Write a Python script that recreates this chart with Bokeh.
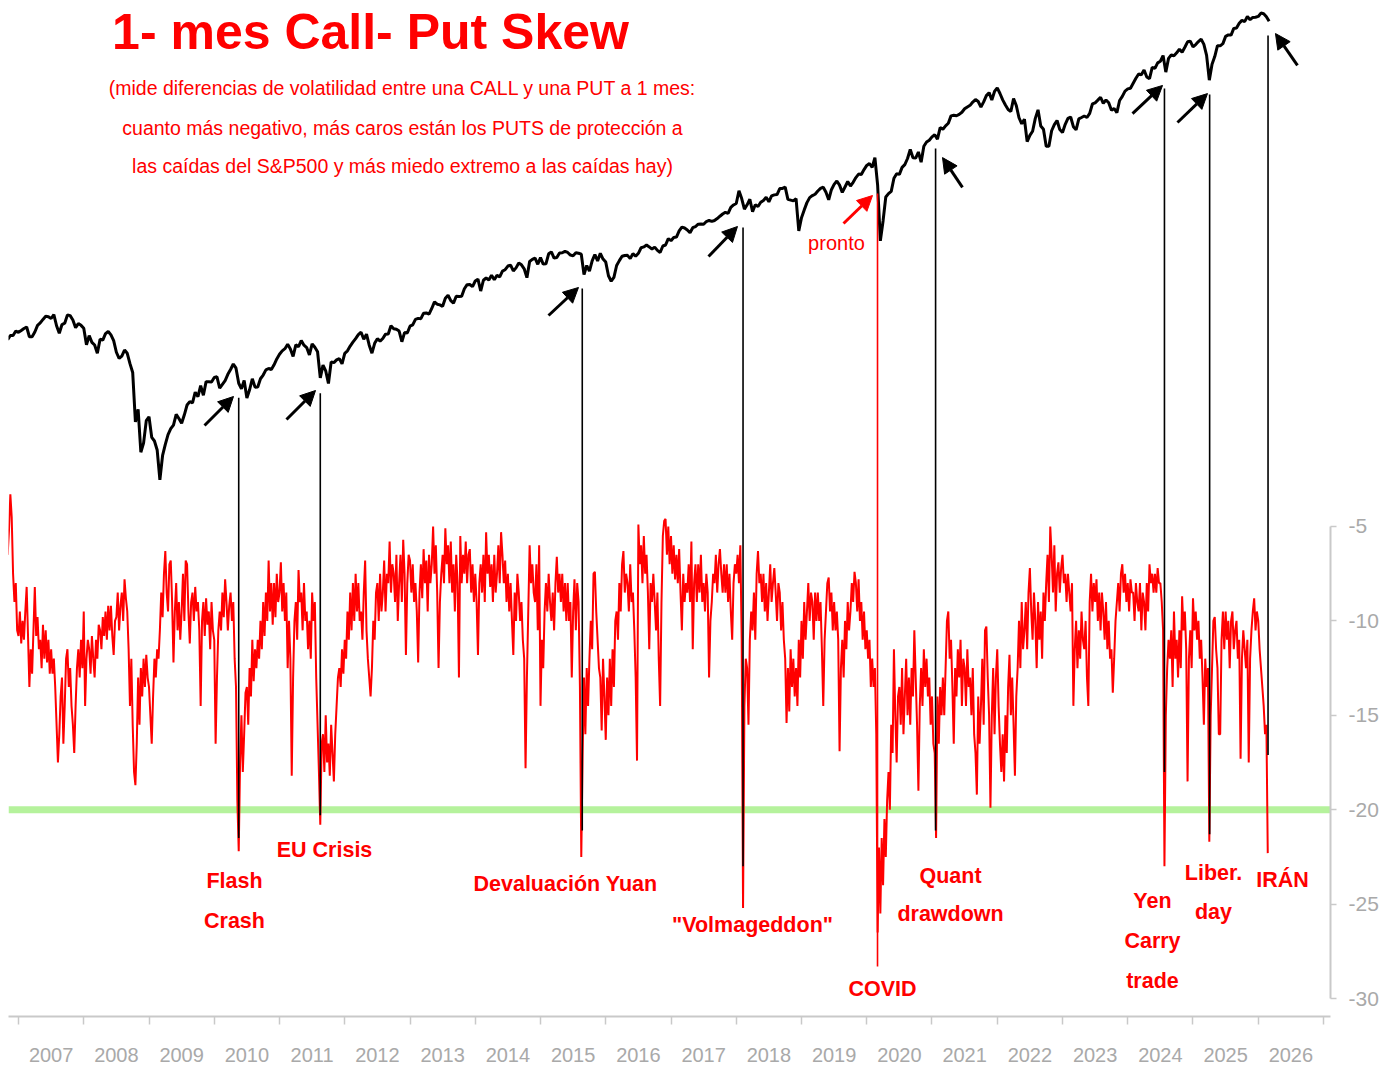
import math
import numpy as np
from bokeh.plotting import figure
from bokeh.models import (Range1d, LogScale, FixedTicker, Span, Label, Arrow,
                          NormalHead, CustomJSTickFormatter)
from bokeh.embed import file_html
from bokeh.resources import INLINE

# ---------------- data ----------------
START = 2006 + 10 / 12          # first observation: Nov 2006

# S&P 500 level, two readings per month (1st, 16th)
sp500 = [
    1367, 1396, 1396, 1427,
    1418, 1431, 1445, 1456, 1387, 1387, 1420, 1468, 1486, 1512, 1536, 1533, 1519, 1549, 1465, 1411, 1474, 1484, 1547, 1541, 1508, 1451, 1481, 1468,
    1447, 1333, 1395, 1349, 1331, 1277, 1370, 1364, 1409, 1424, 1400, 1360, 1284, 1245, 1260, 1298, 1277, 1213, 1161, 907, 966, 780, 816, 913,
    931, 840, 825, 789, 680, 768, 811, 852, 877, 893, 942, 923, 901, 940, 987, 1004, 998, 1052, 1029, 1087, 1036, 1109, 1108, 1107,
    1132, 1136, 1073, 1094, 1115, 1150, 1178, 1211, 1186, 1100, 1070, 1115, 1022, 1065, 1125, 1079, 1080, 1125, 1146, 1176, 1184, 1178, 1206, 1242,
    1271, 1293, 1307, 1336, 1305, 1257, 1332, 1320, 1361, 1330, 1314, 1267, 1339, 1316, 1287, 1130, 1204, 1170, 1099, 1224, 1219, 1236, 1244, 1212,
    1277, 1293, 1324, 1350, 1374, 1402, 1419, 1370, 1405, 1330, 1278, 1342, 1374, 1357, 1375, 1405, 1406, 1465, 1444, 1440, 1427, 1353, 1416, 1413,
    1462, 1472, 1513, 1520, 1518, 1560, 1562, 1552, 1597, 1650, 1631, 1626, 1614, 1680, 1706, 1661, 1640, 1697, 1695, 1698, 1762, 1798, 1800, 1781,
    1831, 1848, 1742, 1838, 1859, 1841, 1885, 1842, 1883, 1870, 1924, 1937, 1973, 1981, 1925, 1955, 2003, 1985, 1946, 1862, 2018, 2039, 2053, 1990,
    2058, 1992, 1995, 2097, 2117, 2053, 2059, 2106, 2108, 2123, 2111, 2084, 2077, 2108, 2103, 2093, 1890, 1978, 1923, 2024, 2090, 2023, 2102, 2043,
    2012, 1880, 1829, 1864, 1978, 2027, 2072, 2080, 2081, 2047, 2099, 2071, 2102, 2161, 2170, 2190, 2170, 2147, 2168, 2133, 2111, 2180, 2191, 2262,
    2239, 2275, 2279, 2350, 2395, 2385, 2362, 2329, 2388, 2402, 2430, 2432, 2429, 2463, 2476, 2464, 2476, 2500, 2529, 2557, 2579, 2564, 2642, 2675,
    2695, 2872, 2762, 2620, 2677, 2752, 2588, 2678, 2654, 2711, 2735, 2779, 2718, 2798, 2813, 2818, 2902, 2905, 2924, 2750, 2740, 2730, 2760, 2351,
    2510, 2610, 2706, 2775, 2803, 2822, 2867, 2905, 2923, 2850, 2744, 2886, 2964, 3014, 2953, 2847, 2926, 3007, 2940, 2995, 3066, 3120, 3113, 3191,
    3258, 3289, 3225, 3386, 2954, 2237, 2470, 2783, 2830, 2863, 3055, 3124, 3115, 3226, 3271, 3372, 3526, 3385, 3380, 3483, 3310, 3585, 3662, 3694,
    3756, 3795, 3714, 3934, 3901, 3968, 4019, 4170, 4181, 4173, 4202, 4246, 4320, 4360, 4395, 4468, 4524, 4480, 4357, 4471, 4613, 4682, 4513, 4709,
    4797, 4662, 4516, 4401, 4306, 4262, 4545, 4392, 4131, 4008, 4101, 3667, 3785, 3863, 4118, 4297, 3966, 3901, 3585, 3583, 3872, 3991, 4076, 3895,
    3840, 3999, 4119, 4147, 3951, 3891, 4109, 4137, 4167, 4136, 4221, 4425, 4450, 4510, 4576, 4437, 4515, 4450, 4288, 4327, 4237, 4502, 4594, 4719,
    4770, 4784, 4906, 5029, 5137, 5117, 5243, 5061, 5018, 5308, 5283, 5431, 5475, 5631, 5186, 5554, 5648, 5626, 5709, 5815, 5728, 5870, 6032, 6051,
    5881, 5949, 6040, 6114, 5954, 5638, 4982, 5396, 5604, 5916, 5912, 5977, 6198, 6243, 6238, 6449, 6460, 6615, 6711, 6671, 6840, 6734, 6812, 6816,
    6845, 6960, 6939, 6836, 6680,
]

# 1-month call-put skew, four readings per month
skew = [
    -6.5, -5.2, -3.3, -4.5, -7.5, -9.0, -8.0, -10.5,
    # 2007
    -10.8, -9.5, -11.2, -10.0, -11.0, -9.5, -8.2, -10.8, -13.5, -11.5, -12.8, -10.5,
    -8.2, -10.8, -9.8, -11.5, -11.0, -12.5, -10.2, -12.0, -10.5, -12.2, -11.0, -12.8,
    -11.5, -12.8, -12.0, -13.5, -15.5, -17.5, -16.0, -14.0, -13.0, -16.5, -14.5, -12.0,
    -11.5, -13.5, -12.5, -14.5, -15.5, -17.0, -14.5, -12.5, -11.5, -13.0, -11.0, -12.5,
    # 2008
    -9.5, -14.5, -12.0, -11.0, -11.5, -12.8, -10.8, -12.0, -13.0, -11.0, -12.0, -10.2,
    -10.5, -11.5, -9.8, -10.8, -9.5, -11.0, -9.2, -10.5, -9.2, -10.8, -11.8, -10.0,
    -9.8, -8.5, -10.5, -9.2, -8.5, -10.0, -7.8, -8.8, -9.5, -11.5, -14.5, -12.0,
    -15.5, -18.0, -18.7, -16.5, -13.0, -15.5, -12.5, -14.0, -12.0, -13.5, -11.8, -13.0,
    # 2009
    -13.5, -15.0, -16.5, -14.0, -12.0, -13.0, -11.5, -12.0, -10.5, -8.5, -9.8, -7.5,
    -6.3, -8.5, -9.5, -7.0, -6.8, -9.0, -12.2, -9.5, -8.0, -10.5, -9.0, -11.0,
    -9.5, -7.5, -10.0, -6.8, -7.0, -9.5, -11.2, -9.0, -8.5, -10.0, -8.2, -9.5,
    -9.0, -10.5, -14.5, -10.0, -9.0, -10.8, -8.8, -10.2, -9.5, -11.5, -9.0, -10.5,
    # 2010
    -11.0, -16.5, -13.0, -10.5, -9.5, -10.5, -8.5, -9.8, -7.8, -9.0, -10.5, -9.2,
    -8.5, -10.0, -9.0, -12.0, -13.5, -19.5, -22.2, -17.5, -15.0, -18.0, -16.0, -13.8,
    -13.5, -15.5, -12.5, -14.0, -11.0, -13.2, -11.5, -12.5, -11.0, -12.0, -10.0, -11.5,
    -9.0, -10.8, -8.5, -10.0, -6.8, -9.5, -8.0, -10.2, -8.0, -9.8, -7.5, -9.0,
    # 2011
    -8.5, -6.9, -9.5, -8.0, -10.0, -8.5, -12.5, -10.0, -12.0, -18.2, -13.0, -10.0,
    -9.0, -11.0, -7.3, -9.0, -8.5, -10.5, -8.0, -10.0, -9.5, -11.5, -10.0, -12.0,
    -8.5, -10.0, -9.0, -13.0, -15.5, -18.0, -20.8, -16.5, -16.0, -18.0, -15.0, -17.5,
    -16.5, -18.2, -15.5, -17.0, -18.5, -16.0, -14.5, -13.0, -12.5, -13.5, -11.5, -12.8,
    # 2012
    -11.0, -12.0, -9.5, -11.0, -8.5, -10.5, -8.0, -10.0, -7.5, -9.5, -8.0, -10.0,
    -9.5, -11.0, -8.5, -6.8, -10.5, -12.0, -13.0, -14.0, -12.5, -10.0, -11.0, -8.5,
    -8.0, -10.0, -7.5, -9.5, -8.5, -6.8, -9.5, -7.5, -8.0, -5.8, -8.5, -7.0,
    -7.5, -9.0, -6.5, -10.0, -8.0, -6.5, -9.0, -5.7, -7.5, -11.8, -8.0, -6.5,
    # 2013
    -6.8, -8.5, -7.0, -9.0, -8.0, -9.5, -12.2, -8.5, -7.0, -8.8, -6.2, -8.0,
    -6.8, -9.5, -6.5, -8.0, -7.0, -5.0, -7.5, -6.0, -8.5, -12.5, -9.0, -7.5,
    -6.5, -8.0, -5.1, -7.0, -6.0, -8.0, -5.8, -8.5, -7.0, -9.5, -6.5, -8.0,
    -13.0, -5.5, -8.0, -6.5, -7.5, -5.8, -8.0, -6.5, -6.2, -8.5, -7.0, -9.0,
    # 2014
    -7.5, -9.0, -11.8, -8.0, -7.0, -8.5, -6.5, -9.0, -5.3, -7.5, -6.5, -8.2,
    -7.0, -9.0, -6.5, -8.5, -7.5, -6.0, -8.0, -5.3, -6.5, -8.0, -6.8, -9.0,
    -7.5, -9.5, -8.0, -10.0, -11.8, -8.5, -10.0, -7.5, -8.5, -10.0, -9.0, -11.0,
    -12.0, -17.8, -13.0, -9.5, -6.0, -8.0, -7.0, -8.5, -9.0, -7.0, -10.5, -6.0,
    # 2015
    -14.5, -11.0, -12.5, -9.5, -8.0, -9.5, -7.5, -9.0, -10.0, -8.5, -10.5, -8.0,
    -6.6, -8.5, -7.5, -9.0, -7.5, -9.5, -8.0, -10.0, -8.0, -10.0, -9.0, -13.0,
    -9.5, -7.8, -10.5, -8.0, -9.0, -13.5, -22.5, -17.0, -13.0, -16.0, -12.5, -14.5,
    -12.0, -10.0, -11.5, -7.5, -7.4, -9.5, -11.0, -12.5, -13.0, -15.8, -12.0, -14.0,
    # 2016
    -16.3, -13.0, -15.0, -12.0, -14.5, -11.5, -13.5, -10.0, -9.5, -11.0, -8.0, -9.5,
    -7.0, -6.3, -8.5, -7.5, -8.0, -9.5, -7.0, -9.0, -8.5, -10.5, -13.0, -17.4,
    -4.9, -7.0, -6.0, -8.0, -5.5, -7.5, -6.5, -8.5, -11.5, -8.0, -9.0, -7.5,
    -9.0, -10.5, -8.5, -12.0, -14.5, -9.0, -5.5, -4.7, -4.6, -6.5, -5.0, -7.0,
    # 2017
    -5.5, -7.5, -6.0, -7.8, -6.5, -8.0, -6.2, -8.5, -10.5, -7.5, -9.0, -8.0,
    -8.5, -7.0, -9.0, -5.8, -11.5, -8.0, -7.0, -9.0, -7.0, -8.5, -6.5, -9.0,
    -8.0, -9.5, -7.5, -8.5, -13.0, -10.0, -9.0, -7.5, -8.0, -6.5, -8.5, -7.0,
    -6.2, -7.5, -8.5, -7.0, -8.5, -7.0, -9.0, -7.5, -9.5, -11.0, -8.0, -7.0,
    # 2018
    -7.5, -6.5, -8.0, -6.0, -11.0, -25.2, -14.5, -12.0, -12.5, -15.5, -11.0, -9.5,
    -10.5, -8.5, -11.0, -7.5, -6.3, -8.0, -7.5, -9.0, -7.5, -9.5, -8.0, -10.0,
    -8.5, -7.0, -9.0, -8.0, -7.2, -8.5, -10.0, -8.0, -8.5, -10.5, -9.0, -11.0,
    -12.0, -15.4, -12.5, -14.8, -11.5, -13.5, -12.0, -14.0, -12.5, -14.5, -11.0, -13.0,
    # 2019
    -10.0, -12.0, -9.0, -11.0, -9.5, -8.0, -10.0, -8.5, -9.0, -11.0, -8.5, -10.0,
    -8.5, -10.0, -9.0, -11.5, -14.5, -11.0, -9.5, -8.0, -7.7, -9.5, -8.5, -10.5,
    -9.0, -10.5, -9.5, -11.0, -16.9, -12.5, -11.0, -13.0, -10.0, -11.5, -9.0, -10.5,
    -9.5, -8.0, -9.0, -7.4, -8.0, -9.5, -7.8, -10.0, -9.0, -11.0, -9.5, -11.5,
    # 2020
    -10.5, -12.0, -11.0, -13.5, -12.0, -13.5, -12.5, -16.0, -26.5, -22.0, -25.5, -21.5,
    -24.0, -20.5, -22.5, -19.5, -18.0, -20.0, -15.5, -17.0, -11.5, -15.0, -17.5, -14.0,
    -13.5, -15.5, -12.5, -16.0, -14.0, -12.0, -15.0, -13.0, -15.5, -12.5, -14.0, -10.5,
    -13.0, -15.5, -19.0, -14.5, -12.5, -14.5, -11.5, -13.5, -12.0, -14.0, -13.0, -15.5,
    # 2021
    -14.0, -16.5, -17.0, -21.5, -14.0, -16.5, -13.5, -15.0, -13.0, -15.0, -12.5, -10.0,
    -9.5, -12.0, -11.0, -13.5, -16.5, -12.5, -14.0, -11.5, -13.0, -11.0, -14.5, -12.0,
    -12.5, -14.5, -11.5, -13.5, -13.0, -15.0, -12.5, -16.0, -17.0, -19.2, -14.0, -16.5,
    -14.5, -12.0, -15.5, -10.5, -10.3, -13.0, -15.0, -19.9, -15.0, -12.5, -16.0, -13.0,
    # 2022
    -11.5, -14.5, -16.5, -18.0, -16.0, -18.5, -15.0, -17.0, -13.5, -11.8, -15.0, -13.0,
    -15.5, -18.2, -14.0, -12.5, -10.0, -12.5, -9.0, -11.5, -10.5, -9.0, -11.5, -8.5,
    -7.2, -9.5, -11.0, -8.5, -10.0, -12.5, -9.0, -11.0, -9.5, -12.0, -8.5, -10.0,
    -8.0, -6.5, -9.0, -5.0, -6.5, -8.5, -6.0, -9.5, -7.5, -6.9, -8.5, -7.2,
    # 2023
    -6.5, -8.0, -7.5, -9.0, -7.5, -8.5, -9.5, -8.0, -14.5, -11.5, -10.0, -12.5,
    -10.5, -12.0, -9.5, -11.0, -11.5, -10.0, -13.0, -14.5, -9.0, -7.5, -9.5, -8.0,
    -9.0, -7.8, -10.0, -8.5, -10.5, -8.5, -9.5, -11.0, -9.0, -11.5, -10.0, -12.0,
    -11.5, -13.8, -12.0, -10.0, -9.0, -8.0, -9.5, -7.5, -7.0, -8.5, -7.5, -9.0,
    # 2024
    -8.0, -9.5, -7.8, -8.5, -8.5, -10.0, -8.0, -9.0, -9.5, -8.0, -10.5, -8.5,
    -9.0, -10.5, -8.0, -9.5, -7.0, -8.0, -7.5, -8.5, -7.5, -8.5, -7.2, -8.0,
    -8.0, -9.0, -10.5, -23.0, -15.0, -12.5, -11.0, -12.0, -10.5, -13.5, -9.5, -12.0,
    -11.0, -13.0, -10.5, -12.5, -8.7, -10.5, -9.5, -11.5, -18.5, -12.0, -10.5, -12.5,
    # 2025
    -8.8, -10.5, -9.5, -11.0, -10.0, -12.0, -11.0, -13.0, -15.5, -12.0, -13.5, -12.5,
    -21.7, -15.0, -12.5, -10.0, -9.8, -11.5, -12.5, -16.0, -16.0, -11.0, -9.5, -11.5,
    -9.5, -11.0, -10.0, -12.5, -10.0, -9.5, -11.5, -10.5, -10.0, -12.0, -11.0, -17.3,
    -12.0, -10.5, -11.5, -12.5, -11.0, -17.5, -12.0, -10.5, -9.5, -8.8, -10.5, -9.5,
    # 2026
    -10.0, -11.5, -12.5, -13.5, -14.5, -16.0, -15.5, -22.3,
]

years = list(range(2007, 2027))
skew_ticks = [-30, -25, -20, -15, -10, -5]
FEAR_LEVEL = -20

# annotated episodes: date, S&P level at top of marker line, skew level at bottom
ev_dates = [2010.375, 2011.625, 2015.64, 2018.104, 2020.165, 2021.055, 2024.5625, 2025.255, 2026.15]
ev_sp_top = [1024, 1046, 1764, 2391, 2833, 3544, 4778, 4639, 6224]
ev_skew_low = [-21.5, -20.3, -21.1, -23.0, -28.3, -21.1, -18.0, -21.3, -17.1]
ev_colors = ["black", "black", "black", "black", "red", "black", "black", "black", "black"]

# ---------------- figure ----------------
X_LO, X_HI = 2006.8467, 2027.1073
Y_LO, Y_HI = -30.953, 22.436
SP_LO, SP_HI = 46.86, 7121.0

FONT = "Liberation Sans"
AX_GRAY = "#c9c9c9"
LBL_GRAY = "#a9a9a9"

p = figure(frame_width=1322, frame_height=1008,
           x_range=Range1d(X_LO, X_HI), y_range=Range1d(Y_LO, Y_HI),
           y_axis_location="right", output_backend="svg", toolbar_location=None,
           min_border_left=8, min_border_top=8, min_border_right=50, min_border_bottom=46)
p.extra_y_ranges = {"sp": Range1d(SP_LO, SP_HI)}
p.extra_y_scales = {"sp": LogScale()}
p.xgrid.visible = False
p.ygrid.visible = False
p.outline_line_color = None
p.background_fill_color = "white"
p.border_fill_color = "white"

# green "fear" threshold
p.add_layout(Span(location=FEAR_LEVEL, dimension="width", line_color="#b5f29c",
                  line_width=7, level="underlay"))

sp_dates = START + np.arange(len(sp500)) / 24.0
skew_dates = START + np.arange(len(skew)) / 48.0

p.line(sp_dates, sp500, y_range_name="sp", line_color="black", line_width=3.0)
p.line(skew_dates, skew, line_color="#ff0000", line_width=2.0)


def sp_to_primary(s):
    f = (math.log10(s) - math.log10(SP_LO)) / (math.log10(SP_HI) - math.log10(SP_LO))
    return Y_LO + f * (Y_HI - Y_LO)


ev_tops = [sp_to_primary(s) for s in ev_sp_top]
p.segment(x0=ev_dates, y0=ev_tops, x1=ev_dates, y1=ev_skew_low,
          line_color=ev_colors, line_width=1.6)

# arrows (tail -> tip)
arrows = [
    (2009.851, 0.35, 2010.295, 1.886, "black"),
    (2011.107, 0.667, 2011.552, 2.203, "black"),
    (2015.123, 6.176, 2015.582, 7.659, "black"),
    (2017.575, 9.30, 2018.019, 10.89, "black"),
    (2019.644, 11.05, 2020.088, 12.53, "red"),
    (2021.467, 12.96, 2021.161, 14.54, "black"),
    (2024.073, 16.87, 2024.533, 18.36, "black"),
    (2024.762, 16.40, 2025.222, 17.93, "black"),
    (2026.601, 19.42, 2026.264, 21.11, "black"),
]
for xs, ys, xe, ye, c in arrows:
    p.add_layout(Arrow(end=NormalHead(size=15, fill_color=c, line_color=c, line_width=1),
                       x_start=xs, y_start=ys, x_end=xe, y_end=ye,
                       line_color=c, line_width=3))

# axes
xa = p.xaxis[0]
xa.ticker = FixedTicker(ticks=[y + 0.5 for y in years],
                        minor_ticks=list(range(2007, 2028)))
xa.formatter = CustomJSTickFormatter(code="return String(Math.floor(tick));")
xa.axis_line_color = AX_GRAY
xa.axis_line_width = 2
xa.major_tick_line_color = None
xa.major_tick_out = 0
xa.major_tick_in = 0
xa.minor_tick_line_color = AX_GRAY
xa.minor_tick_line_width = 1.5
xa.minor_tick_out = 8
xa.minor_tick_in = 0
xa.major_label_standoff = 23
xa.major_label_text_color = LBL_GRAY
xa.major_label_text_font = FONT
xa.major_label_text_font_size = "20px"

ya = p.yaxis[0]
ya.ticker = FixedTicker(ticks=skew_ticks)
ya.formatter = CustomJSTickFormatter(code="return String(tick);")
ya.bounds = (-30, -5)
ya.axis_line_color = AX_GRAY
ya.axis_line_width = 2
ya.major_tick_line_color = AX_GRAY
ya.major_tick_line_width = 1.5
ya.major_tick_out = 6
ya.major_tick_in = 0
ya.minor_tick_line_color = None
ya.major_label_standoff = 12
ya.major_label_text_color = LBL_GRAY
ya.major_label_text_font = FONT
ya.major_label_text_font_size = "21px"


def label(x, y, text, size, bold=True, color="#ff0000"):
    p.add_layout(Label(x=x, y=y, text=text, text_align="center", text_baseline="middle",
                       text_font=FONT, text_font_size=size,
                       text_font_style="bold" if bold else "normal", text_color=color))


label(2012.395, 21.17, "1- mes Call- Put Skew", "50px")
label(2012.885, 18.25, "(mide diferencias de volatilidad entre una CALL y una PUT a 1 mes:", "19.5px", bold=False)
label(2012.885, 16.13, "cuanto más negativo, más caros están los PUTS de protección a", "19.5px", bold=False)
label(2012.885, 14.07, "las caídas del S&P500 y más miedo extremo a las caídas hay)", "19.5px", bold=False)
label(2019.536, 10.04, "pronto", "20px", bold=False)

ANN = "21.5px"
label(2010.310, -23.75, "Flash", ANN)
label(2010.310, -25.87, "Crash", ANN)
label(2011.690, -22.11, "EU Crisis", ANN)
label(2015.383, -23.91, "Devaluación Yuan", ANN)
label(2018.249, -26.13, "\"Volmageddon\"", ANN)
label(2020.241, -29.47, "COVID", ANN)
label(2021.284, -23.49, "Quant", ANN)
label(2021.284, -25.50, "drawdown", ANN)
label(2024.379, -24.81, "Yen", ANN)
label(2024.379, -26.93, "Carry", ANN)
label(2024.379, -29.05, "trade", ANN)
label(2025.314, -23.33, "Liber.", ANN)
label(2025.314, -25.44, "day", ANN)
label(2026.372, -23.70, "IRÁN", ANN)

open("out.html", "w").write(file_html(p, INLINE))
